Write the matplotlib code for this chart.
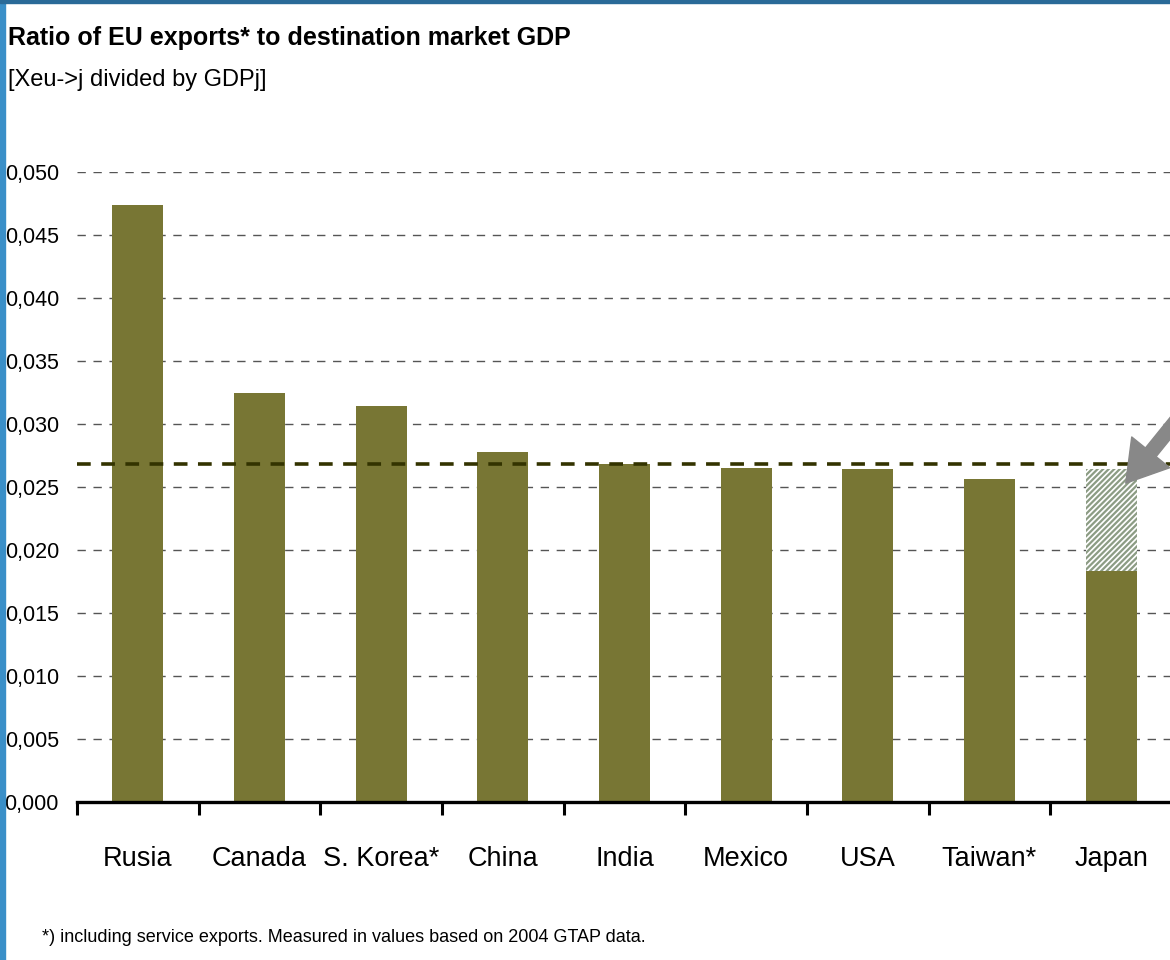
import matplotlib
matplotlib.use("Agg")
import matplotlib.pyplot as plt
from matplotlib.patches import Rectangle
from matplotlib.ticker import FuncFormatter, MultipleLocator, FixedLocator
import numpy as np

countries = ["Rusia", "Canada", "S. Korea*", "China", "India", "Mexico", "USA", "Taiwan*", "Japan"]
ratio = [0.0474, 0.0325, 0.0314, 0.0278, 0.0268, 0.0265, 0.0264, 0.0256, 0.0183]
japan_adjusted = 0.0264   # top of hatched segment for Japan
reference_level = 0.0268

title = "Ratio of EU exports* to destination market GDP"
subtitle = "[Xeu->j divided by GDPj]"
footnote = "*) including service exports. Measured in values based on 2004 GTAP data."

plt.rcParams['font.family'] = ['Liberation Sans', 'DejaVu Sans']
plt.rcParams['hatch.linewidth'] = 1.6

W, H = 1170, 960
fig = plt.figure(figsize=(W / 100, H / 100), dpi=100)
fig.patch.set_facecolor("white")

# blue frame on left and top
fig.patches.append(Rectangle((0, 0), 4.5 / W, 1, transform=fig.transFigure, color="#3a8fc8", zorder=0))
fig.patches.append(Rectangle((0, 1 - 3 / H), 1, 3 / H, transform=fig.transFigure, color="#2a6a98", zorder=0))

ax = fig.add_axes([77 / W, 158 / H, 1095 / W, 630 / H])
x = np.arange(len(countries))
bar_color = "#787634"
ax.bar(x, ratio, width=0.42, color=bar_color, zorder=3)

# hatched extension for Japan
ji = countries.index("Japan")
ax.bar(x[ji], japan_adjusted - ratio[ji], bottom=ratio[ji], width=0.42,
       facecolor="white", edgecolor="#8c9c84", hatch="//////", linewidth=0, zorder=3)

ax.axhline(reference_level, color="#333300", lw=2.6, dashes=(3.8, 2.9), zorder=4)

ax.set_xlim(-0.5, len(countries) - 0.5)
ax.set_ylim(0, 0.050)
ax.yaxis.set_major_locator(MultipleLocator(0.005))
ax.yaxis.set_major_formatter(FuncFormatter(lambda v, p: f"{v:.3f}".replace(".", ",")))
ax.yaxis.grid(True, color="#555555", lw=1.0, dashes=(6, 5.5), zorder=1)
ax.set_axisbelow(True)

for s in ["top", "right", "left"]:
    ax.spines[s].set_visible(False)
ax.spines["bottom"].set_linewidth(2.4)
ax.spines["bottom"].set_zorder(5)

ax.set_xticks(x)
ax.set_xticklabels(countries, fontsize=19.5)
ax.xaxis.set_minor_locator(FixedLocator(np.arange(-0.5, len(countries), 1.0)))
ax.tick_params(axis="x", which="major", length=0, pad=32)
ax.tick_params(axis="x", which="minor", length=9, width=2.2, direction="out")
ax.tick_params(axis="y", length=0, pad=13, labelsize=15.5)

# arrow pointing to hatched segment
ax.annotate("", xy=(8.12, 0.0253), xycoords="data",
            xytext=(1185 / W, 1 - 410 / H), textcoords="figure fraction",
            arrowprops=dict(arrowstyle="simple,head_length=1.3,head_width=1.6,tail_width=0.45",
                            color="#888888", mutation_scale=22, shrinkA=0, shrinkB=0),
            annotation_clip=False, zorder=6)

fig.text(8 / W, 1 - 38 / H, title, fontsize=18, fontweight="bold", va="center", ha="left")
fig.text(8 / W, 1 - 80 / H, subtitle, fontsize=17, va="center", ha="left")
fig.text(42 / W, 1 - 937 / H, footnote, fontsize=13, va="center", ha="left")

fig.savefig("out.png", dpi=100)
